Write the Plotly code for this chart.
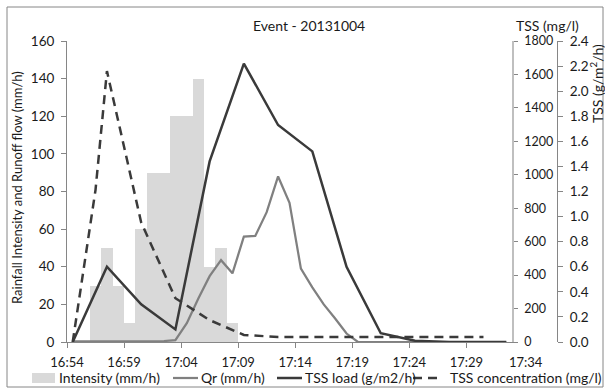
import plotly.graph_objects as go

# ---- data ----
times = ["16:54","16:55","16:56","16:57","16:58","16:59","17:00","17:01","17:02","17:03",
         "17:04","17:05","17:06","17:07","17:08","17:09","17:10","17:11","17:12","17:13",
         "17:14","17:15","17:16","17:17","17:18","17:19","17:20","17:21","17:22","17:23",
         "17:24","17:25","17:26","17:27","17:28","17:29","17:30","17:31","17:32"]

intensity = [None, None, 30, 50, 30, 10, 60, 90, 90, 120, 120, 140, 40, 50, 10] + [None] * 24

qr = [0.3, 0.3, 0.3, 0.5, 0.5, 0.4, 0.4, 0.4, 0.5, 1.0,
      10, 23, 35, 43.5, 36.5, 56, 56.4, 69, 88, 74,
      39, 29, 20, 12.5, 4.5, 0, 0, 0, 0, 0,
      0, 0, 0, 0, 0, 0, 0, 0, 0]

tss_load = [0.0, None, None, 0.6, None, None, 0.3, None, None, 0.1,
            None, None, 1.44, None, None, 2.22, None, None, 1.73, None,
            None, 1.52, None, None, 0.6, None, None, 0.07, None, None,
            0.01, None, None, 0.0, None, None, 0.0, None, 0.0]

tss_conc = [0, None, 910, 1620, None, None, 715, None, None, 262,
            None, None, 131, None, None, 42, None, None, 30, None,
            None, 30, None, None, 30, None, None, 30, None, None,
            30, None, None, 30, None, None, 30, None, None]

tick_labels = ["16:54", "16:59", "17:04", "17:09", "17:14", "17:19", "17:24", "17:29", "17:34"]

legend_names = ["Intensity (mm/h)", "Qr (mm/h)", "TSS load (g/m2/h)", "TSS concentration (mg/l)"]

x_idx = list(range(len(times)))
tick_pos = [k * 5 - 0.5 for k in range(len(tick_labels) - 1)]

FONT = "Lato"
TXT = "#1a1a1a"
AXC = "#868686"
BAR_C = "#D9D9D9"
QR_C = "#808080"
DARK = "#3a3a3a"
DASH = "9px,6px"

W, H = 605, 390
ML, MR, MT, MB = 67, 48, 41, 48
PW = W - ML - MR
PH = H - MT - MB
def px(xp):
    return (xp - ML) / PW
def py(yp):
    return (H - MB - yp) / PH

fig = go.Figure()
fig.add_trace(go.Bar(x=x_idx, y=intensity, name=legend_names[0], width=1.0,
                     marker=dict(color=BAR_C, line=dict(width=0)), yaxis="y"))
fig.add_trace(go.Scatter(x=x_idx, y=qr, name=legend_names[1], mode="lines",
                         line=dict(color=QR_C, width=2.25), yaxis="y"))
fig.add_trace(go.Scatter(x=x_idx, y=tss_conc, name=legend_names[3], mode="lines",
                         connectgaps=True,
                         line=dict(color=DARK, width=2.5, dash=DASH), yaxis="y2"))
fig.add_trace(go.Scatter(x=x_idx, y=tss_load, name=legend_names[2], mode="lines",
                         connectgaps=True,
                         line=dict(color=DARK, width=2.5), yaxis="y3"))

fig.update_layout(
    width=W, height=H,
    margin=dict(l=ML, r=MR, t=MT, b=MB, autoexpand=False),
    paper_bgcolor="white", plot_bgcolor="white",
    font=dict(family=FONT, size=12, color=TXT),
    bargap=0,
    showlegend=False,
    xaxis=dict(domain=[0, (512 - ML) / PW], range=[-0.5, 38.5], tickvals=tick_pos,
               ticktext=tick_labels[:-1], showgrid=False, zeroline=False, showline=True,
               linecolor=AXC, linewidth=1, ticks="outside", ticklen=5, tickcolor=AXC,
               tickfont=dict(size=13), ticklabelstandoff=3, fixedrange=True),
    yaxis=dict(range=[0, 160], dtick=20, showgrid=False, zeroline=False, showline=True,
               linecolor=AXC, linewidth=1, ticks="outside", ticklen=5, tickcolor=AXC,
               tickfont=dict(size=13.5), ticklabelstandoff=4),
    yaxis2=dict(range=[0, 1800], dtick=200, overlaying="y", side="right", anchor="x",
                showgrid=False, zeroline=False, showline=True, linecolor="#BFBFBF", linewidth=1.5,
                ticks="outside", ticklen=4, tickcolor=AXC, tickfont=dict(size=12.5),
                ticklabelstandoff=4),
    yaxis3=dict(range=[0, 2.4], dtick=0.2, tickformat=".1f", overlaying="y", side="right",
                anchor="free", position=1.0, showgrid=False, zeroline=False, showline=True,
                linecolor=AXC, linewidth=1, ticks="outside", ticklen=5, tickcolor=AXC,
                tickfont=dict(size=13.5), ticklabelstandoff=4),
)

ann = [
    dict(text="Event - 20131004", x=px(309), y=py(25), font=dict(size=14)),
    dict(text="TSS (mg/l)", x=px(547), y=py(25), font=dict(size=14)),
    dict(text="TSS (g/m<sup>2</sup>/h)", x=px(596), y=py(84), textangle=-90, font=dict(size=14)),
    dict(text="Rainfall Intensity and Runoff flow (mm/h)", x=px(17), y=py(188), textangle=-90,
         font=dict(size=13)),
    dict(text=tick_labels[-1], x=px(526), y=py(362), font=dict(size=13)),
]
for a in ann:
    fig.add_annotation(xref="paper", yref="paper", showarrow=False, xanchor="center",
                       yanchor="middle", **a)

# ---- manual legend ----
LY = 378
fig.add_shape(type="rect", xref="paper", yref="paper", x0=px(32), x1=px(55), y0=py(383), y1=py(373),
              line=dict(width=0), fillcolor=BAR_C)
fig.add_shape(type="line", xref="paper", yref="paper", x0=px(173), x1=px(198), y0=py(LY), y1=py(LY),
              line=dict(color=QR_C, width=2.25))
fig.add_shape(type="line", xref="paper", yref="paper", x0=px(277), x1=px(302), y0=py(LY), y1=py(LY),
              line=dict(color=DARK, width=2.5))
fig.add_shape(type="line", xref="paper", yref="paper", x0=px(413), x1=px(442), y0=py(LY), y1=py(LY),
              line=dict(color=DARK, width=2.5, dash=DASH))
for name, xl in zip(legend_names, [57, 199, 303, 448]):
    fig.add_annotation(xref="paper", yref="paper", showarrow=False, xanchor="left",
                       yanchor="middle", text=name, x=px(xl), y=py(LY), font=dict(size=14))

fig.add_shape(type="rect", xref="paper", yref="paper", x0=px(7), x1=px(603), y0=py(387), y1=py(7),
              line=dict(color="#868686", width=1), fillcolor="rgba(0,0,0,0)", layer="below")

fig.write_html("out.html", config={"displayModeBar": False},
               post_script="document.body.style.margin='0px';document.body.style.padding='0px';"
                           "document.documentElement.style.overflow='hidden';")
